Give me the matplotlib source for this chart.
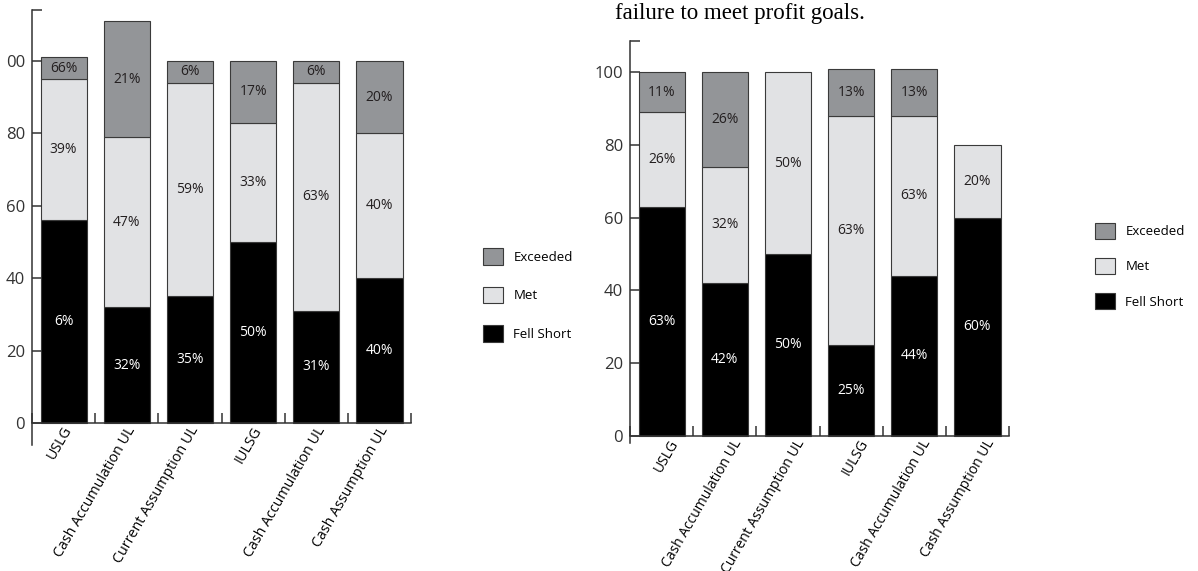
import matplotlib
matplotlib.use("Agg")
import matplotlib.pyplot as plt
from matplotlib.transforms import ScaledTranslation

plt.rcParams["font.family"] = ["Open Sans", "DejaVu Sans"]

categories = [
    "USLG",
    "Cash Accumulation UL",
    "Current Assumption UL",
    "IULSG",
    "Cash Accumulation UL",
    "Cash Assumption UL",
]
series_names = ["Exceeded", "Met", "Fell Short"]

# left panel
left_short = [56, 32, 35, 50, 31, 40]
left_met = [39, 47, 59, 33, 63, 40]
left_exceeded = [6, 32, 6, 17, 6, 20]
left_short_txt = ["6%", "32%", "35%", "50%", "31%", "40%"]
left_met_txt = ["39%", "47%", "59%", "33%", "63%", "40%"]
left_exc_txt = ["66%", "21%", "6%", "17%", "6%", "20%"]
left_yticks = [0, 20, 40, 60, 80, 100]
left_yticklabels = ["0", "20", "40", "60", "80", "00"]

# right panel
right_short = [63, 42, 50, 25, 44, 60]
right_met = [26, 32, 50, 63, 44, 20]
right_exceeded = [11, 26, 0, 13, 13, 0]
right_short_txt = ["63%", "42%", "50%", "25%", "44%", "60%"]
right_met_txt = ["26%", "32%", "50%", "63%", "63%", "20%"]
right_exc_txt = ["11%", "26%", "", "13%", "13%", ""]
right_yticks = [0, 20, 40, 60, 80, 100]
right_yticklabels = ["0", "20", "40", "60", "80", "100"]

colors = {"Exceeded": "#939598", "Met": "#e1e2e4", "Fell Short": "#000000"}
edge = "#3a3a3a"


def draw_panel(ax, short, met, exc, short_txt, met_txt, exc_txt,
               yticks, yticklabels, ylo, yhi, xpad, xshift, xfont):
    x = list(range(len(categories)))
    w = 0.73
    h_short = ax.bar(x, short, w, color=colors["Fell Short"], edgecolor=edge,
                     linewidth=0.8, label="Fell Short")
    h_met = ax.bar(x, met, w, bottom=short, color=colors["Met"],
                   edgecolor=edge, linewidth=0.8, label="Met")
    base = [s + m for s, m in zip(short, met)]
    xs = [i for i in x if exc[i] > 0]
    h_exc = ax.bar(xs, [exc[i] for i in xs], w, bottom=[base[i] for i in xs],
                   color=colors["Exceeded"], edgecolor=edge, linewidth=0.8,
                   label="Exceeded")

    for i in x:
        ax.text(i, short[i] / 2, short_txt[i], ha="center", va="center",
                color="white", fontsize=10)
        ax.text(i, short[i] + met[i] / 2, met_txt[i], ha="center",
                va="center", color="#231f20", fontsize=10)
        if exc_txt[i]:
            ax.text(i, base[i] + exc[i] / 2, exc_txt[i], ha="center",
                    va="center", color="#231f20", fontsize=10)

    ax.set_xlim(-0.5, len(categories) - 0.5)
    ax.set_ylim(ylo, yhi)
    for s in ["top", "right"]:
        ax.spines[s].set_visible(False)
    ax.spines["bottom"].set_position(("data", 0))
    for s in ["left", "bottom"]:
        ax.spines[s].set_linewidth(1.1)
        ax.spines[s].set_color("#333333")

    ax.set_xticks(x)
    ax.set_xticklabels(categories, rotation=60, ha="right",
                       rotation_mode="anchor", fontsize=xfont)
    ax.set_xticks([i - 0.5 for i in range(len(categories) + 1)], minor=True)
    ax.tick_params(axis="x", which="major", length=0, pad=xpad)
    ax.tick_params(axis="x", which="minor", direction="in", length=7,
                   width=1.1, color="#333333")
    shift = ScaledTranslation(xshift / 100, 0, fig.dpi_scale_trans)
    for lab in ax.get_xticklabels():
        lab.set_transform(lab.get_transform() + shift)

    ax.set_yticks(yticks + [yhi])
    ax.set_yticklabels(yticklabels + [""], fontsize=12, color="#333333")
    ax.tick_params(axis="y", direction="in", length=7, width=1.1,
                   color="#333333", pad=5)

    return [h_exc, h_met, h_short]


fig = plt.figure(figsize=(11.98, 5.71), dpi=100)

ax1 = fig.add_axes([0.0267, 0.2212, 0.3164, 0.7608])
handles = draw_panel(ax1, left_short, left_met, left_exceeded,
                     left_short_txt, left_met_txt, left_exc_txt,
                     left_yticks, left_yticklabels, -6, 114, 0.5, -1, 10.3)
fig.legend(handles, series_names, loc="center left",
           bbox_to_anchor=(483 / 1198, 1 - 295 / 571), frameon=False,
           borderpad=0, borderaxespad=0, handlelength=1.5, handleheight=1.5,
           labelspacing=1.7, handletextpad=0.8, fontsize=9.5)

ax2 = fig.add_axes([0.5259, 0.2245, 0.3164, 0.7039])
handles = draw_panel(ax2, right_short, right_met, right_exceeded,
                     right_short_txt, right_met_txt, right_exc_txt,
                     right_yticks, right_yticklabels, -2, 108.7, 1, 7, 10)
fig.legend(handles, series_names, loc="center left",
           bbox_to_anchor=(1095 / 1198, 1 - 266 / 571), frameon=False,
           borderpad=0, borderaxespad=0, handlelength=1.5, handleheight=1.5,
           labelspacing=1.45, handletextpad=0.8, fontsize=9.5)

fig.text(615 / 1198, 1 - 19 / 571, "failure to meet profit goals.",
         family=["Liberation Serif", "DejaVu Serif"], fontsize=16.5,
         va="baseline", ha="left")

fig.savefig("out.png", dpi=100)
